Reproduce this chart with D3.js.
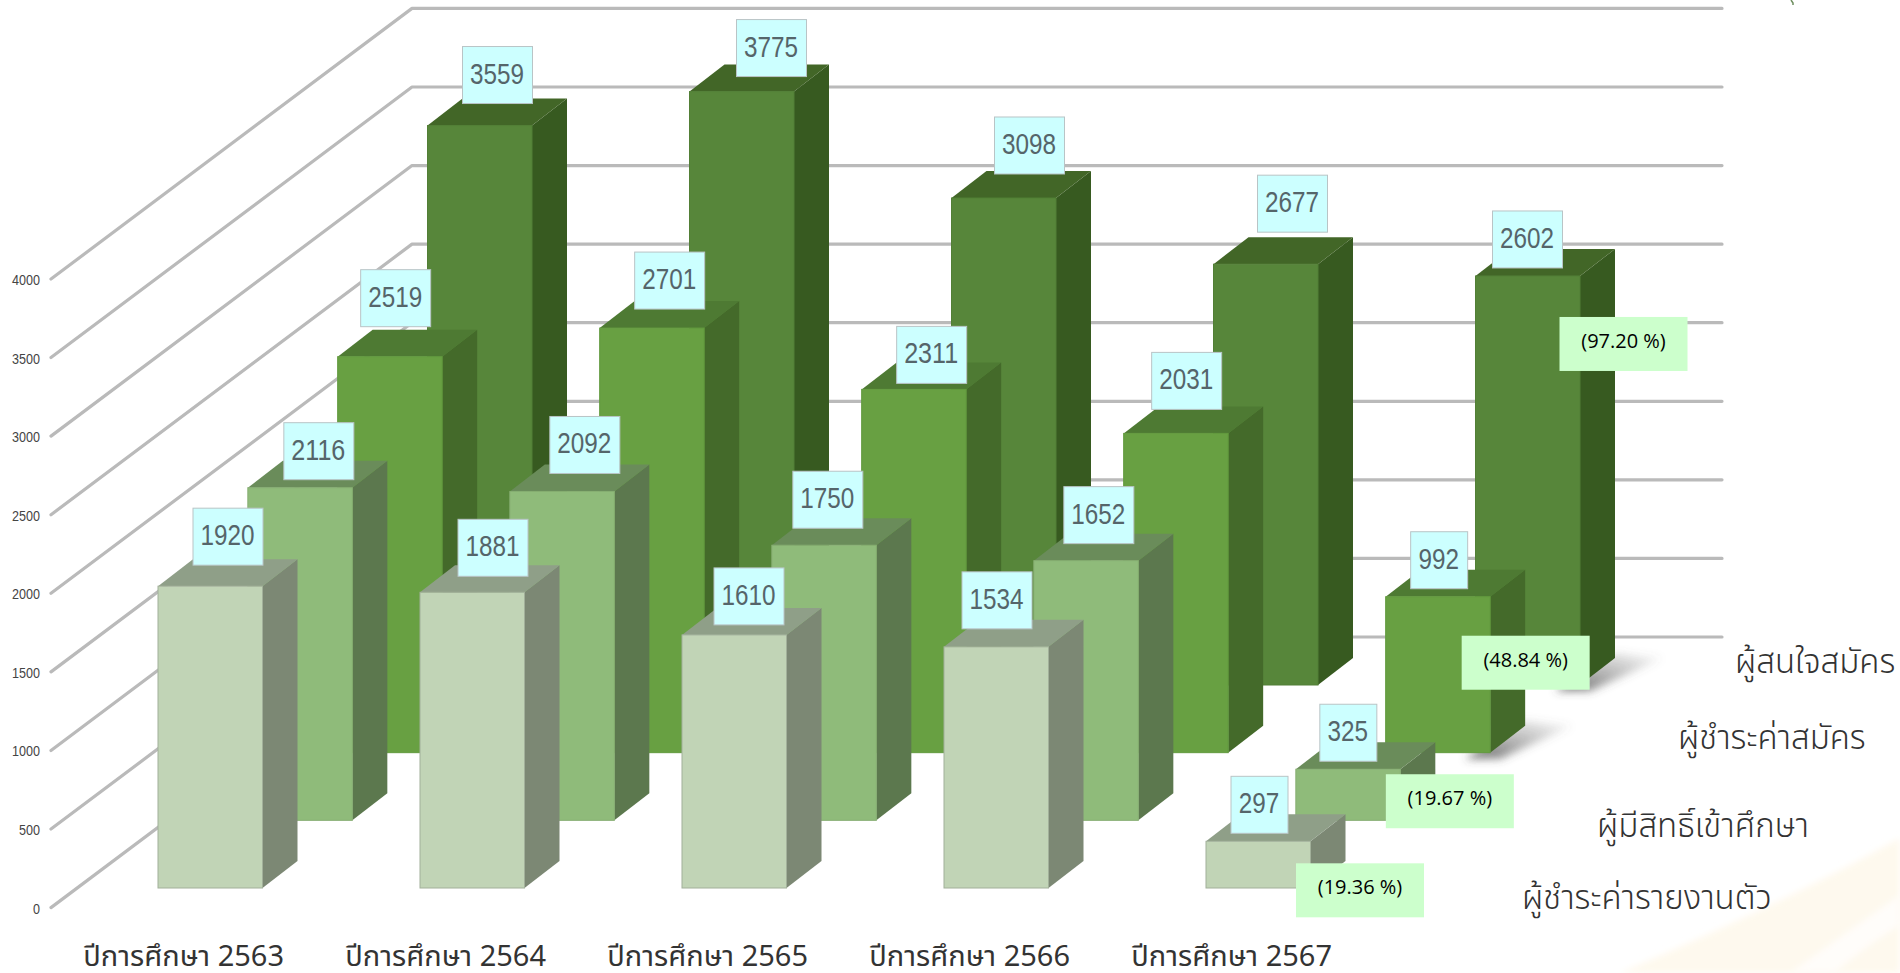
<!DOCTYPE html>
<html><head><meta charset="utf-8">
<style>html,body{margin:0;padding:0;background:#fff;overflow:hidden}
svg{display:block}
.thai{font-family:'Noto Sans Thai','Noto Sans','Noto Sans CJK SC',sans-serif}
</style>
<script src="https://cdn.jsdelivr.net/npm/d3@7/dist/d3.min.js"></script>
</head><body><svg id="c" width="1900" height="973"></svg>
<script>
const categories=["ปีการศึกษา 2563","ปีการศึกษา 2564","ปีการศึกษา 2565","ปีการศึกษา 2566","ปีการศึกษา 2567"];
const seriesNames=["ผู้ชำระค่ารายงานตัว","ผู้มีสิทธิ์เข้าศึกษา","ผู้ชำระค่าสมัคร","ผู้สนใจสมัคร"];
const reported=[1920,1881,1610,1534,297];
const eligible=[2116,2092,1750,1652,325];
const paid=[2519,2701,2311,2031,992];
const interested=[3559,3775,3098,2677,2602];
const percentLabels=["(19.36 %)","(19.67 %)","(48.84 %)","(97.20 %)"];
const yTicks=[0,500,1000,1500,2000,2500,3000,3500,4000];

const seriesValues=[reported,eligible,paid,interested];
const palette=[
 {front:"#C1D4B6",side:"#7C8874",top:"#8F9F88",line:"#A2B09A"},
 {front:"#8FBB7A",side:"#5C784E",top:"#6A8C5A",line:"#86AE72"},
 {front:"#68A042",side:"#446A2A",top:"#4E7A33",line:"#629A3E"},
 {front:"#57863A",side:"#375A20",top:"#426627",line:"#527F36"}];
// value-label box nudges relative to each bar's left edge and top edge
const boxDx=[[35,38,32,18,25],[36,40,21,30,24],[23,35,35,28,25],[35,47,43,44,17]];
const boxDy=[[-21,-16,-10,-18,-8],[-8,-18,-17,-17,-8],[-30,-19,-6,-24,-8],[-22,-15,-24,-32,-8]];
const pctDx=[90,90,76,84], pctDy=[22,5,39,41];

const svg=d3.select("#c");
const defs=svg.append("defs");
defs.append("filter").attr("id","blur").attr("x","-30%").attr("y","-50%").attr("width","160%").attr("height","200%")
  .append("feGaussianBlur").attr("stdDeviation",4);
defs.append("filter").attr("id","soft").append("feGaussianBlur").attr("stdDeviation",3);
const sg=defs.append("linearGradient").attr("id","shadow").attr("x1",0).attr("x2",1).attr("y1",1).attr("y2",0);
sg.append("stop").attr("offset",0).attr("stop-color","#444").attr("stop-opacity",.8);
sg.append("stop").attr("offset",1).attr("stop-color","#666").attr("stop-opacity",0);

// faint background swoosh
svg.append("path").attr("d","M1620,973 Q1780,905 1900,838 L1900,973 Z").attr("fill","#FEF9EE").attr("filter","url(#soft)");
svg.append("path").attr("d","M1790,973 Q1850,930 1900,895 L1900,925 Q1860,950 1835,973 Z").attr("fill","#FFFDFA").attr("filter","url(#soft)");
svg.append("path").attr("d","M1791,0 L1793,3 L1793,5").attr("fill","none").attr("stroke","#6F8F60").attr("stroke-width",1.5);

const h=d3.scaleLinear().domain([0,4000]).range([0,628.8]);
const x=d3.scaleBand().domain(d3.range(5)).range([158,158+262*4+104.5]).paddingInner(1-104.5/262).paddingOuter(0);
const rowDx=d3.scaleLinear().domain([0,3]).range([0,269.5]);
const rowBase=d3.scaleLinear().domain([0,3]).range([888,685]);
const depthX=35, depthY=27;

// grid
const front=d3.scaleLinear().domain([0,4000]).range([907.6,279]);
const gridG=svg.append("g");
gridG.selectAll("path").data(yTicks).join("path")
 .attr("d",v=>{const y=front(v);return d3.line()([[51,y],[412,y-270.6],[1722,y-270.6]]);})
 .attr("fill","none").attr("stroke","#BABABA").attr("stroke-width",3.2).attr("stroke-linecap","round").attr("stroke-linejoin","round");

const yAxis=svg.append("g").attr("transform","translate(40,1)")
 .call(d3.axisLeft(front).tickValues(yTicks).tickSize(0).tickPadding(0).tickFormat(d3.format("d")));
yAxis.select(".domain").remove();
yAxis.selectAll("text").attr("font-family","'Liberation Sans',sans-serif").attr("font-size",14).attr("fill","#444")
 .attr("textLength",d=>String(d).length*7).attr("lengthAdjust","spacingAndGlyphs");

// shadows of the two back bars in the last year
[3,2].forEach(r=>{
  const bx=x(4)+rowDx(r)+x.bandwidth(), b=rowBase(r);
  svg.append("path").attr("d",d3.line()([[bx-25,b+6],[bx+10,b+6],[bx+depthX+48,b-depthY],[bx+depthX,b-depthY-5]]))
   .attr("fill","url(#shadow)").attr("filter","url(#blur)");
});

// bars, back row first
d3.range(3,-1,-1).forEach(r=>{
  const g=svg.append("g");
  const c=palette[r], w=x.bandwidth();
  const bars=g.selectAll("g").data(seriesValues[r]).join("g");
  const L=(d,i)=>x(i)+rowDx(r), B=rowBase(r), T=d=>B-h(d);
  bars.append("path").attr("fill",c.side)
    .attr("d",(d,i)=>d3.line()([[L(d,i)+w,T(d)],[L(d,i)+w+depthX,T(d)-depthY],[L(d,i)+w+depthX,B-depthY],[L(d,i)+w,B]])+"Z");
  bars.append("path").attr("fill",c.top)
    .attr("d",(d,i)=>d3.line()([[L(d,i),T(d)],[L(d,i)+depthX,T(d)-depthY],[L(d,i)+w+depthX,T(d)-depthY],[L(d,i)+w,T(d)]])+"Z");
  bars.append("rect").attr("x",(d,i)=>L(d,i)).attr("y",T).attr("width",w).attr("height",d=>h(d))
    .attr("fill",c.front).attr("stroke",c.line).attr("stroke-width",1);
});

// value labels
d3.range(3,-1,-1).forEach(r=>{
  const g=svg.append("g").selectAll("g").data(seriesValues[r]).join("g");
  const bw=d=>d<1000?57:70;
  const bl=(d,i)=>x(i)+rowDx(r)+boxDx[r][i], bt=(d,i)=>rowBase(r)-h(d)+boxDy[r][i]-57;
  g.append("rect").attr("x",bl).attr("y",bt).attr("width",bw).attr("height",57)
   .attr("fill","#CCFFFF").attr("stroke","#B9C4C6").attr("stroke-width",1);
  g.append("text").attr("x",(d,i)=>bl(d,i)+bw(d)/2-0.5).attr("y",(d,i)=>bt(d,i)+37)
   .attr("text-anchor","middle").attr("font-family","'Liberation Sans',sans-serif")
   .attr("font-size",29).attr("fill","#55656A")
   .attr("textLength",d=>String(d).length*13.5).attr("lengthAdjust","spacingAndGlyphs").text(d=>d);
});

// percent labels on the last year
d3.range(3,-1,-1).forEach(r=>{
  const left=x(4)+rowDx(r)+pctDx[r], top=rowBase(r)-h(seriesValues[r][4])+pctDy[r];
  svg.append("rect").attr("x",left).attr("y",top).attr("width",128).attr("height",54).attr("fill","#CCFFCC");
  svg.append("text").attr("x",left+64).attr("y",top+31).attr("text-anchor","middle")
   .attr("font-family","'Open Sans','Noto Sans',sans-serif").attr("font-size",20).attr("fill","#000").text(percentLabels[r]);
});

// category axis
const xAxis=svg.append("g").attr("transform","translate(-26.6,945)")
 .call(d3.axisBottom(x).tickSize(0).tickPadding(0).tickFormat(i=>categories[i]));
xAxis.select(".domain").remove();
xAxis.selectAll("text").attr("class","thai").attr("font-size",29).attr("font-weight",400).attr("fill","#333");

// series names
const nameX=[1522,1597,1678,1735], nameY=[909,837,749,673];
svg.append("g").selectAll("text").data(seriesNames).join("text").attr("class","thai")
 .attr("x",(d,i)=>nameX[i]).attr("y",(d,i)=>nameY[i]).attr("font-size",33).attr("font-weight",300).attr("fill","#333").text(d=>d);
</script></body></html>
